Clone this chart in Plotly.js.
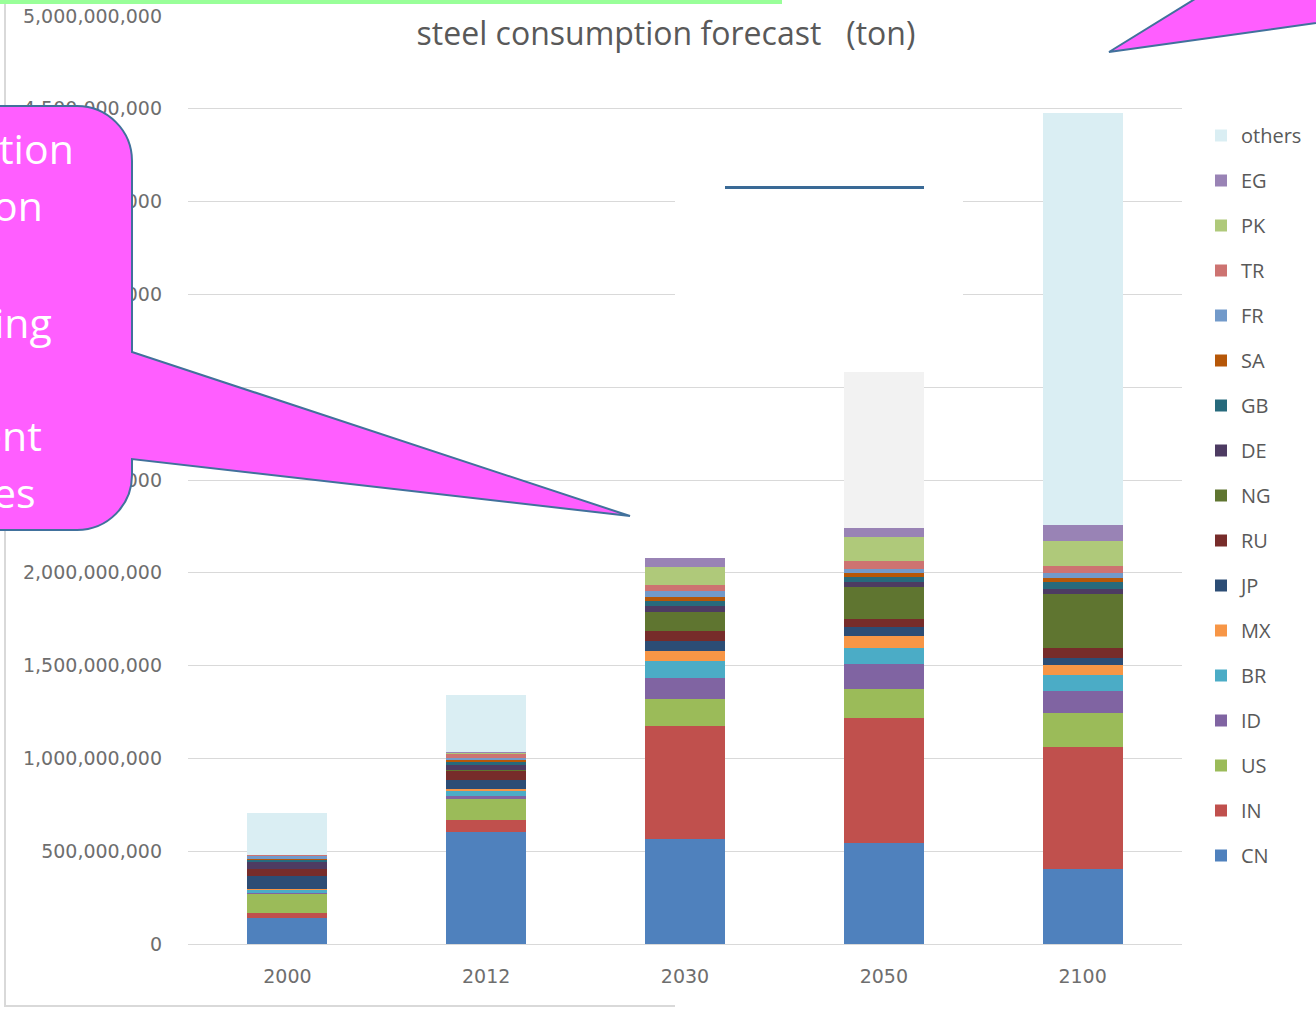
<!DOCTYPE html>
<html>
<head>
<meta charset="utf-8">
<script src="https://cdn.plot.ly/plotly-3.0.1.min.js"></script>
<style>
  html, body { margin: 0; padding: 0; background: #ffffff; }
  #chart { width: 1316px; height: 1009px; }
</style>
</head>
<body>
<div id="chart"></div>
<script>
// ---- data (tons) ----
const years = ['2000', '2012', '2030', '2050', '2100'];
const countries = ['CN', 'IN', 'US', 'ID', 'BR', 'MX', 'JP', 'RU', 'NG', 'DE', 'GB', 'SA', 'FR', 'TR', 'PK', 'EG', 'others'];
const CN = [142e6, 605e6, 564e6, 543e6, 404e6];
const IN = [25e6, 63e6, 612e6, 673e6, 657e6];
const US = [102e6, 111e6, 144e6, 158e6, 183e6];
const ID = [8e6, 20e6, 111e6, 135e6, 120e6];
const BR = [15e6, 27e6, 93e6, 88e6, 86e6];
const MX = [5e6, 10e6, 56e6, 65e6, 54e6];
const JP = [70e6, 48e6, 54e6, 45e6, 36e6];
const RU = [36e6, 50e6, 52e6, 45e6, 54e6];
const NG = [2e6, 3e6, 104e6, 169e6, 293e6];
const DE = [36e6, 30e6, 31e6, 29e6, 25e6];
const GB = [11e6, 14e6, 29e6, 30e6, 36e6];
const SA = [5e6, 9e6, 22e6, 18e6, 23e6];
const FR = [16e6, 12e6, 29e6, 23e6, 27e6];
const TR = [5e6, 20e6, 31e6, 43e6, 36e6];
const PK = [2e6, 6e6, 99e6, 128e6, 140e6];
const EG = [2e6, 8e6, 48e6, 48e6, 85e6];
const others = [224e6, 306e6, 0, 842e6, 2218e6];
const yTickVals = [0, 5e8, 1e9, 1.5e9, 2e9, 2.5e9, 3e9, 3.5e9, 4e9, 4.5e9, 5e9];

const seriesValues = [CN, IN, US, ID, BR, MX, JP, RU, NG, DE, GB, SA, FR, TR, PK, EG, others];
const colors = {
  CN: '#4F81BD', IN: '#C0504D', US: '#9BBB59', ID: '#8064A2', BR: '#4BACC6',
  MX: '#F79646', JP: '#2C4D75', RU: '#772C2A', NG: '#5F7530', DE: '#4D3B62',
  GB: '#276A7C', SA: '#B65708', FR: '#729ACA', TR: '#CD7371', PK: '#AFC97A',
  EG: '#9983B5', others: '#DAEEF3'
};

const traces = countries.map((c, i) => {
  let col = colors[c];
  if (c === 'others') col = years.map(y => y === '2050' ? '#F2F2F2' : colors.others);
  return {
    type: 'bar', name: c, x: years, y: seriesValues[i],
    legendgroup: c, legendrank: 100 - i,
    marker: { color: col, line: { width: 0 } },
    hoverinfo: 'skip'
  };
});

// pixel -> paper helpers
const W = 1316, H = 1009;
const PL = 188, PR = 1182, PT = 16, PB = 944;
const X = px => (px - PL) / (PR - PL);
const Y = py => (PB - py) / (PB - PT);
function path(cmds) {
  return cmds.map(c => {
    const op = c[0];
    const pts = [];
    for (let k = 1; k < c.length; k += 2) pts.push(X(c[k]).toFixed(5) + ',' + Y(c[k + 1]).toFixed(5));
    return op + pts.join(' ');
  }).join(' ');
}
const K = 0.552, Rr = 55;
const callout1 = path([
  ['M', -30, 106], ['L', 132 - Rr, 106],
  ['C', 132 - Rr + Rr * K, 106, 132, 106 + Rr - Rr * K, 132, 106 + Rr],
  ['L', 132, 352], ['L', 630, 516], ['L', 132, 459], ['L', 132, 530 - Rr],
  ['C', 132, 530 - Rr + Rr * K, 132 - Rr + Rr * K, 530, 132 - Rr, 530],
  ['L', -30, 530]
]) + ' Z';
const callout2 = path([['M', 1203, -6], ['L', 1109, 52], ['L', 1330, 21], ['L', 1330, -6]]) + ' Z';

const pink = '#FF5EFF', outline = '#41719C';
const shapes = [
  { type: 'path', xref: 'paper', yref: 'paper', path: path([['M', 5, -2], ['L', 5, 1006], ['L', 675, 1006]]),
    line: { color: '#D9D9D9', width: 2 }, layer: 'above' },
  { type: 'rect', xref: 'paper', yref: 'paper', x0: X(675), x1: X(963), y0: Y(372), y1: Y(187),
    fillcolor: '#FFFFFF', line: { width: 0 }, layer: 'above' },
  { type: 'line', xref: 'paper', yref: 'paper', x0: X(725), x1: X(924), y0: Y(187.5), y1: Y(187.5),
    line: { color: '#3A6A96', width: 3 }, layer: 'above' },
  { type: 'rect', xref: 'paper', yref: 'paper', x0: X(-5), x1: X(782), y0: Y(4), y1: Y(-5),
    fillcolor: '#99FF99', line: { width: 0 }, layer: 'above' },
  { type: 'path', xref: 'paper', yref: 'paper', path: callout1, fillcolor: pink,
    line: { color: outline, width: 2 }, layer: 'above' },
  { type: 'path', xref: 'paper', yref: 'paper', path: callout2, fillcolor: pink,
    line: { color: outline, width: 2 }, layer: 'above' }
];

const calloutText = [
  ['tion', 76, 148], ['on', 45, 205], ['ing', 54, 322], ['ent', 44, 435], ['es', 38, 492]
];
const annotations = calloutText.map(t => ({
  text: t[0], xref: 'paper', yref: 'paper', x: X(t[1]), y: Y(t[2]),
  xanchor: 'right', yanchor: 'middle', showarrow: false,
  font: { family: 'Open Sans, sans-serif', size: 41, color: '#FFFFFF' }
}));

const tickFont = { family: 'DejaVu Sans, sans-serif', size: 19, color: '#6E6E6E' };
const layout = {
  width: W, height: H,
  margin: { l: PL, r: W - PR, t: PT, b: H - PB, pad: 0 },
  paper_bgcolor: '#FFFFFF', plot_bgcolor: '#FFFFFF',
  barmode: 'stack', bargap: 0.598,
  font: { family: 'Open Sans, sans-serif', color: '#595959', size: 18 },
  title: {
    text: 'steel consumption forecast\u00a0\u00a0\u00a0(ton)',
    xref: 'paper', x: X(666), xanchor: 'center',
    yref: 'container', y: 1 - 34 / H, yanchor: 'middle',
    font: { family: 'Open Sans, sans-serif', size: 32, color: '#595959' }
  },
  xaxis: {
    type: 'category', showgrid: false, showline: true, linecolor: '#D9D9D9', linewidth: 1,
    ticks: '', ticklabelstandoff: 15, tickfont: tickFont, fixedrange: true
  },
  yaxis: {
    range: [0, 5e9], tickvals: yTickVals, tickformat: ',d', showgrid: true, gridcolor: '#D9D9D9',
    gridwidth: 1, zeroline: false, showline: false, ticks: '', ticklabelstandoff: 25,
    tickfont: tickFont, fixedrange: true
  },
  showlegend: true,
  legend: {
    xref: 'container', yref: 'container',
    x: 1201 / W, xanchor: 'left', y: 1 - 116 / H, yanchor: 'top',
    maxheight: 980,
    traceorder: 'grouped', tracegroupgap: 16,
    font: { family: 'Open Sans, sans-serif', size: 20, color: '#595959' },
    bgcolor: 'rgba(0,0,0,0)', borderwidth: 0
  },
  shapes: shapes,
  annotations: annotations,
  hovermode: false
};

Plotly.newPlot('chart', traces, layout, { displayModeBar: false, staticPlot: true });
</script>
</body>
</html>
